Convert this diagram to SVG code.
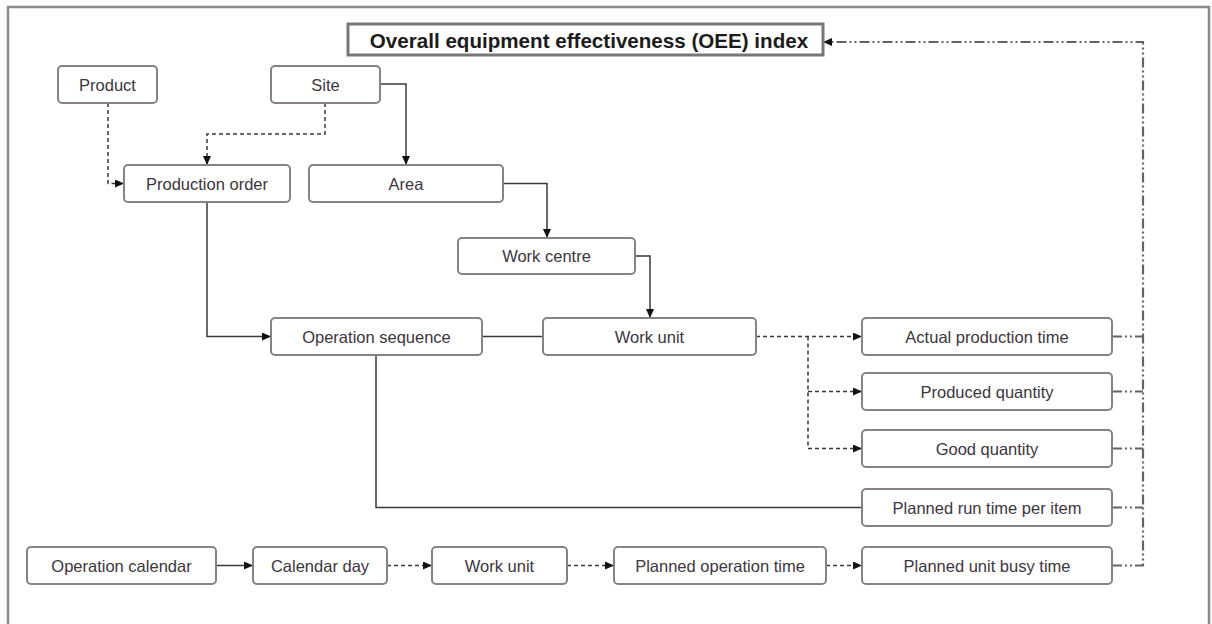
<svg xmlns="http://www.w3.org/2000/svg" width="1212" height="624" viewBox="0 0 1212 624">
<defs>
<style>
.box{fill:#fff;stroke:#8a8282;stroke-width:2}
.lbl{font-family:"Liberation Sans",Arial,sans-serif;font-size:16.5px;fill:#3e3540;text-anchor:middle;dominant-baseline:central}
.title{font-family:"Liberation Sans",Arial,sans-serif;font-size:20.6px;font-weight:bold;fill:#1c1c1c;text-anchor:middle;dominant-baseline:central}
.solid{fill:none;stroke:#3a3a3a;stroke-width:1.5}
.dash{fill:none;stroke:#3a3a3a;stroke-width:1.5;stroke-dasharray:4 3}
.dd{fill:none;stroke:#6a6262;stroke-width:2.2;stroke-dasharray:10 3 2 3 2 3}
</style>
<marker id="arr" markerUnits="userSpaceOnUse" markerWidth="9" markerHeight="8" refX="9" refY="4" orient="auto">
<path d="M0,0 L9,4 L0,8 z" fill="#111"/>
</marker>
</defs>
<rect x="0" y="0" width="1212" height="624" fill="#fafbfb"/>
<rect x="8" y="7" width="1201" height="640" fill="#fff" stroke="#8a8a8a" stroke-width="2.5"/>

<g id="connectors">
<path class="dash" d="M108,103 V183.5 H124" marker-end="url(#arr)"/>
<path class="dash" d="M325,103 V134 H207 V165" marker-end="url(#arr)"/>
<path class="solid" d="M380,84 H406 V165" marker-end="url(#arr)"/>
<path class="solid" d="M503,183.5 H547 V238" marker-end="url(#arr)"/>
<path class="solid" d="M635,256 H650 V318" marker-end="url(#arr)"/>
<path class="solid" d="M207,202 V336.5 H271" marker-end="url(#arr)"/>
<path class="solid" d="M482,336.5 H543"/>
<path class="dash" d="M756,336.5 H862" marker-end="url(#arr)"/>
<path class="dash" d="M808,336.5 V448.5 H862" marker-end="url(#arr)"/>
<path class="dash" d="M808,391.5 H862" marker-end="url(#arr)"/>
<path class="solid" d="M376,355 V507.5 H862"/>
<path class="solid" d="M216,565.5 H253" marker-end="url(#arr)"/>
<path class="dash" d="M387,565.5 H432" marker-end="url(#arr)"/>
<path class="dash" d="M567,565.5 H614" marker-end="url(#arr)"/>
<path class="dash" d="M826,565.5 H862" marker-end="url(#arr)"/>
<path class="dd" d="M1112,565.5 H1143 V42 H823" marker-end="url(#arr)"/>
<path class="dd" d="M1112,336.5 H1143"/>
<path class="dd" d="M1112,391.5 H1143"/>
<path class="dd" d="M1112,448.5 H1143"/>
<path class="dd" d="M1112,507.5 H1143"/>
</g>

<g id="oee"><rect x="348" y="24" width="475" height="31" fill="#fff" stroke="#7a7676" stroke-width="3"/><text class="title" x="589" y="40">Overall equipment effectiveness (OEE) index</text></g>
<g id="product"><rect class="box" x="58" y="66" width="99" height="37" rx="4"/><text class="lbl" x="107.5" y="84.5">Product</text></g>
<g id="site"><rect class="box" x="271" y="66" width="109" height="37" rx="4"/><text class="lbl" x="325.5" y="84.5">Site</text></g>
<g id="production-order"><rect class="box" x="124" y="165" width="166" height="37" rx="4"/><text class="lbl" x="207" y="183.5">Production order</text></g>
<g id="area"><rect class="box" x="309" y="165" width="194" height="37" rx="4"/><text class="lbl" x="406" y="183.5">Area</text></g>
<g id="work-centre"><rect class="box" x="458" y="238" width="177" height="36" rx="4"/><text class="lbl" x="546.5" y="256">Work centre</text></g>
<g id="operation-sequence"><rect class="box" x="271" y="318" width="211" height="37" rx="4"/><text class="lbl" x="376.5" y="336.5">Operation sequence</text></g>
<g id="work-unit"><rect class="box" x="543" y="318" width="213" height="37" rx="4"/><text class="lbl" x="649.5" y="336.5">Work unit</text></g>
<g id="actual-production-time"><rect class="box" x="862" y="318" width="250" height="37" rx="4"/><text class="lbl" x="987" y="336.5">Actual production time</text></g>
<g id="produced-quantity"><rect class="box" x="862" y="373" width="250" height="37" rx="4"/><text class="lbl" x="987" y="391.5">Produced quantity</text></g>
<g id="good-quantity"><rect class="box" x="862" y="430" width="250" height="37" rx="4"/><text class="lbl" x="987" y="448.5">Good quantity</text></g>
<g id="planned-run-time"><rect class="box" x="862" y="489" width="250" height="37" rx="4"/><text class="lbl" x="987" y="507.5">Planned run time per item</text></g>
<g id="operation-calendar"><rect class="box" x="27" y="547" width="189" height="37" rx="4"/><text class="lbl" x="121.5" y="565.5">Operation calendar</text></g>
<g id="calendar-day"><rect class="box" x="253" y="547" width="134" height="37" rx="4"/><text class="lbl" x="320" y="565.5">Calendar day</text></g>
<g id="work-unit-2"><rect class="box" x="432" y="547" width="135" height="37" rx="4"/><text class="lbl" x="499.5" y="565.5">Work unit</text></g>
<g id="planned-operation-time"><rect class="box" x="614" y="547" width="212" height="37" rx="4"/><text class="lbl" x="720" y="565.5">Planned operation time</text></g>
<g id="planned-unit-busy-time"><rect class="box" x="862" y="547" width="250" height="37" rx="4"/><text class="lbl" x="987" y="565.5">Planned unit busy time</text></g>
</svg>
